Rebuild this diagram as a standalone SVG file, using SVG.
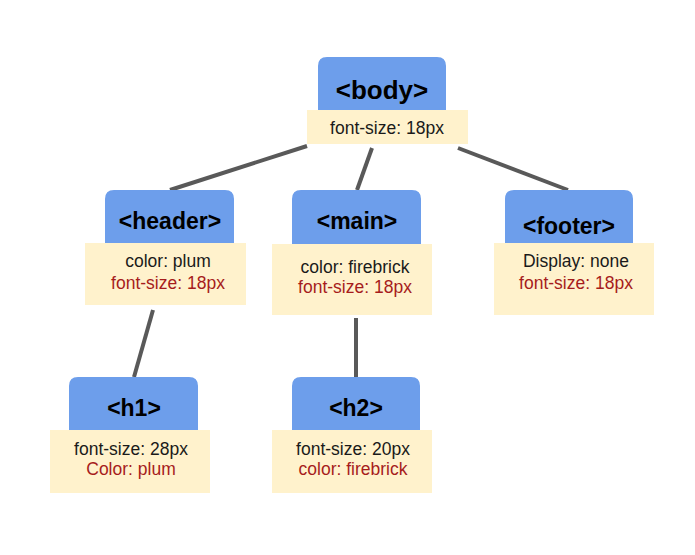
<svg xmlns="http://www.w3.org/2000/svg" width="695" height="555" viewBox="0 0 695 555">
<style>
.tag{fill:#6d9eeb}
.box{fill:#fff2cc}
.lbl{font-family:"Liberation Sans",Arial,sans-serif;font-weight:bold;font-size:23px;fill:#000;text-anchor:middle}
.t{font-family:"Liberation Sans",Arial,sans-serif;font-size:17.5px;fill:#1a1a1a;text-anchor:middle}
.r{fill:#a61c1c}
.c{stroke:#595959;stroke-width:4;fill:none}
</style>
<rect width="695" height="555" fill="#fff"/>
<g id="connectors">
<line class="c" x1="307" y1="146" x2="170" y2="190"/>
<line class="c" x1="372" y1="148" x2="357" y2="190"/>
<line class="c" x1="458" y1="148" x2="568" y2="190"/>
<line class="c" x1="153" y1="310" x2="134" y2="377"/>
<line class="c" x1="356" y1="318" x2="356" y2="377"/>
</g>
<g id="body">
<path class="tag" d="M318,120 V66 Q318,57 327,57 H437 Q446,57 446,66 V120 Z"/>
<rect class="box" x="307" y="110" width="161" height="34"/>
<text class="lbl" x="382" y="99" style="font-size:26px">&lt;body&gt;</text>
<text class="t" x="387" y="134">font-size: 18px</text>
</g>
<g id="header">
<path class="tag" d="M105,250 V199 Q105,190 114,190 H225 Q234,190 234,199 V250 Z"/>
<rect class="box" x="85" y="243" width="161" height="62"/>
<text class="lbl" x="170" y="229">&lt;header&gt;</text>
<text class="t" x="168" y="267">color: plum</text>
<text class="t r" x="168" y="289">font-size: 18px</text>
</g>
<g id="main">
<path class="tag" d="M292,250 V199 Q292,190 301,190 H412 Q421,190 421,199 V250 Z"/>
<rect class="box" x="272" y="244" width="160" height="71"/>
<text class="lbl" x="357" y="229">&lt;main&gt;</text>
<text class="t" x="355" y="273">color: firebrick</text>
<text class="t r" x="355" y="293">font-size: 18px</text>
</g>
<g id="footer">
<path class="tag" d="M505,250 V199 Q505,190 514,190 H624 Q633,190 633,199 V250 Z"/>
<rect class="box" x="494" y="243" width="160" height="72"/>
<text class="lbl" x="569" y="234">&lt;footer&gt;</text>
<text class="t" x="576" y="267">Display: none</text>
<text class="t r" x="576" y="289">font-size: 18px</text>
</g>
<g id="h1">
<path class="tag" d="M69,437 V386 Q69,377 78,377 H189 Q198,377 198,386 V437 Z"/>
<rect class="box" x="50" y="430" width="160" height="63"/>
<text class="lbl" x="134" y="416">&lt;h1&gt;</text>
<text class="t" x="131" y="455">font-size: 28px</text>
<text class="t r" x="131" y="475">Color: plum</text>
</g>
<g id="h2">
<path class="tag" d="M292,437 V386 Q292,377 301,377 H411 Q420,377 420,386 V437 Z"/>
<rect class="box" x="272" y="430" width="160" height="63"/>
<text class="lbl" x="356" y="416">&lt;h2&gt;</text>
<text class="t" x="353" y="455">font-size: 20px</text>
<text class="t r" x="353" y="475">color: firebrick</text>
</g>
</svg>
